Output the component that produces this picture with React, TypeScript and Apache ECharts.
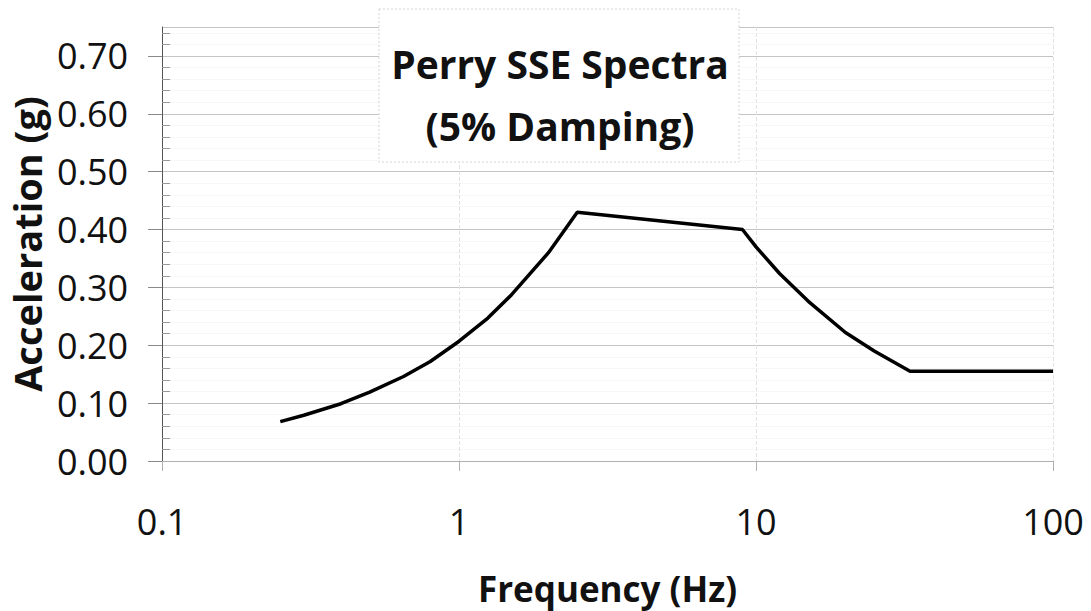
import React, { useEffect, useRef } from "react";
import * as echarts from "echarts";

const frequencyHz = [0.25, 0.3, 0.4, 0.5, 0.65, 0.8, 1, 1.25, 1.5, 2, 2.5, 9, 10, 12, 15, 20, 25, 33, 100];
const accelerationG = [0.068, 0.079, 0.099, 0.119, 0.146, 0.172, 0.207, 0.247, 0.287, 0.36, 0.43, 0.4, 0.37, 0.324, 0.276, 0.222, 0.19, 0.155, 0.155];
const titleLines = ["Perry SSE Spectra", "(5% Damping)"];
const xAxisTitle = "Frequency (Hz)";
const yAxisTitle = "Acceleration (g)";

export default function App() {
  const ref = useRef<HTMLDivElement>(null);
  useEffect(() => {
    if (!ref.current) return;
    const chart = echarts.init(ref.current, null, { renderer: "svg" });
    const font = "'Open Sans', 'DejaVu Sans', sans-serif";
    chart.setOption({
      animation: false,
      backgroundColor: "#ffffff",
      grid: { left: 158, right: 38, top: 27, bottom: 148, containLabel: false },
      graphic: [
        {
          type: "rect",
          z: 10,
          shape: { x: 379, y: 9, width: 360, height: 153 },
          style: { fill: "#ffffff", stroke: "#d4d4d4", lineWidth: 1, lineDash: [2, 2] },
        },
        {
          type: "text",
          z: 11,
          style: {
            x: 560,
            y: 63,
            text: titleLines[0],
            textAlign: "center",
            textVerticalAlign: "middle",
            font: `bold 39px ${font}`,
            fill: "#111",
          },
        },
        {
          type: "text",
          z: 11,
          style: {
            x: 560,
            y: 125,
            text: titleLines[1],
            textAlign: "center",
            textVerticalAlign: "middle",
            font: `bold 39px ${font}`,
            fill: "#111",
          },
        },
      ],
      xAxis: {
        type: "log",
        logBase: 10,
        min: 0.1,
        max: 100,
        name: xAxisTitle,
        nameLocation: "middle",
        nameGap: 110,
        nameTextStyle: { fontFamily: font, fontWeight: "bold", fontSize: 35, color: "#111", verticalAlign: "top" },
        axisLine: { show: true, lineStyle: { color: "#b0b0b0", width: 1 } },
        axisTick: { show: true, length: 10, lineStyle: { color: "#b0b0b0" } },
        axisLabel: {
          margin: 42,
          fontFamily: font,
          fontSize: 36,
          color: "#111",
          formatter: (v: number) => String(Number(v.toPrecision(3))),
        },
        splitLine: { show: true, lineStyle: { color: "#e2e2e2", width: 1, type: "dashed" } },
        minorTick: { show: false },
      },
      yAxis: [
        {
          type: "value",
          min: 0,
          max: 0.75,
          interval: 0.1,
          name: yAxisTitle,
          nameLocation: "middle",
          nameGap: 112,
          nameTextStyle: { fontFamily: font, fontWeight: "bold", fontSize: 38, color: "#111" },
          axisLine: { show: true, lineStyle: { color: "#555", width: 1 } },
          axisTick: { show: true, length: 14, lineStyle: { color: "#888" } },
          axisLabel: {
            margin: 34,
            fontFamily: font,
            fontSize: 36,
            color: "#111",
            showMaxLabel: false,
            formatter: (v: number) => (Math.abs(v - 0.75) < 1e-6 ? "" : v.toFixed(2)),
          },
          splitLine: { show: true, lineStyle: { color: "#c4c4c4", width: 1 } },
        },
        {
          type: "value",
          min: 0,
          max: 0.75,
          interval: 0.1,
          position: "left",
          axisLine: { show: false },
          axisLabel: { show: false },
          axisTick: { show: false, inside: true },
          splitLine: { show: false },
          minorTick: { show: true, splitNumber: 5, length: 8, lineStyle: { color: "#999" } },
          minorSplitLine: { show: true, lineStyle: { color: "#f0f0f0", type: "dotted" } },
        },
      ],
      series: [
        {
          type: "line",
          data: frequencyHz.map((f, i) => [f, accelerationG[i]]),
          showSymbol: false,
          symbol: "none",
          smooth: false,
          lineStyle: { color: "#000", width: 3.5 },
        },
      ],
    });
    return () => chart.dispose();
  }, []);
  return <div ref={ref} style={{ position: "fixed", left: 0, top: 0, width: 1091, height: 611 }} />;
}
